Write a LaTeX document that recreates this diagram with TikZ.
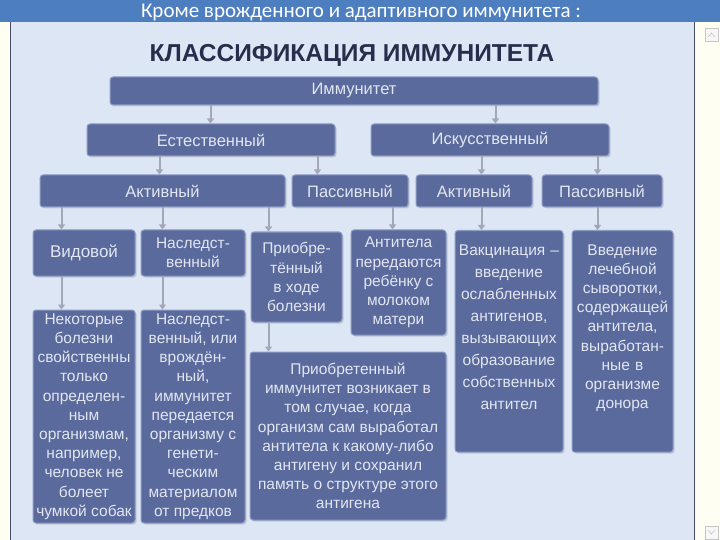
\documentclass[tikz,border=0pt]{standalone}
\usepackage{fontspec}
\setmainfont{Liberation Sans}
\newfontfamily\hdrfont{Carlito}
\usetikzlibrary{arrows.meta,calc,shadows}

\definecolor{hdrblue}{HTML}{4D7EBF}
\definecolor{paneblue}{HTML}{DCE6F4}
\definecolor{boxfill}{HTML}{5A6A9D}
\definecolor{boxedge}{HTML}{8E9BC6}
\definecolor{boxtext}{HTML}{E2E6F0}
\definecolor{titlenavy}{HTML}{272E4C}
\definecolor{arrgray}{HTML}{A3A8B8}

\begin{document}
\begin{tikzpicture}[x=1pt, y=-1pt,
    unit/.style={draw=boxedge, line width=1pt, fill=boxfill, rounded corners=3pt,
      text=boxtext, align=center, inner sep=0pt,
      drop shadow={shadow xshift=1.5pt, shadow yshift=-1.5pt, opacity=0.3}},
    head/.style={unit, font=\fontsize{16.5}{20}\selectfont},
    info/.style={unit, font=\fontsize{15.5}{19.2}\selectfont},
    arr/.style={draw=arrgray, line width=2pt, -{Triangle[width=7pt,length=5pt]}}]
    \useasboundingbox (0,0) rectangle (720,540);
    % window frame
    \fill[white!95!yellow] (0,22) rectangle (720,540);
    \fill[paneblue] (11,22) rectangle (694,540);
    \fill[hdrblue] (0,0) rectangle (720,22);
    \draw[titlenavy!85, line width=1.2pt] (10.5,22) -- (10.5,540);
    \draw[titlenavy!85, line width=1.2pt] (694.5,22) -- (694.5,540);
    \draw[gray!45, fill=gray!6] (705,28) rectangle (718,41);
    \draw[gray!60] (708,37) -- (711.5,33) -- (715,37);
    \draw[gray!45, fill=gray!6] (705,526) rectangle (718,539);
    \draw[gray!60] (708,530) -- (711.5,534) -- (715,530);
    % headings
    \node[font=\hdrfont\fontsize{21}{24}\selectfont, text=white] (hdr) at (361,12.5)
      {Кроме врожденного и адаптивного иммунитета :};
    \node[font=\bfseries\fontsize{24.5}{27}\selectfont, text=titlenavy] (title) at (352,55)
      {КЛАССИФИКАЦИЯ ИММУНИТЕТА};
    % levels 1-3
    \node[head, minimum width=488, minimum height=28] (imm) at (354,91) {Иммунитет};
    \node[head, minimum width=248, minimum height=32] (est) at (211,140) {Естественный};
    \node[head, minimum width=238, minimum height=32] (isk) at (490,140) {Искусственный};
    \node[head, minimum width=245, minimum height=32] (act1) at (162.5,191) {Активный};
    \node[head, minimum width=116, minimum height=32] (pas1) at (350,191) {Пассивный};
    \node[head, minimum width=116, minimum height=32] (act2) at (474,191) {Активный};
    \node[head, minimum width=120, minimum height=32] (pas2) at (602,191) {Пассивный};
    % level 4
    \node[head, font=\fontsize{17}{20}\selectfont, minimum width=102, minimum height=46] (vid) at (84,253) {Видовой};
    \node[info, minimum width=104, minimum height=46] (nas) at (193,253) {Наследст-\\венный};
    \node[info, minimum width=91, minimum height=90] (pri) at (296.5,277) {Приобре-\\тённый\\в ходе\\болезни};
    \node[info, minimum width=95, minimum height=105] (ant) at (398.5,282.5)
      {Антитела\\передаются\\ребёнку с\\молоком\\матери};
    \node[info, font=\fontsize{15.5}{22}\selectfont, anchor=north, text width=108,
      inner ysep=14pt, text depth=183pt] (vac) at (509,230)
      {Вакцинация –\\введение\\ослабленных\\антигенов,\\вызывающих\\образование\\собственных\\антител};
    \node[info, anchor=north, text width=101, inner ysep=14pt, text depth=183pt] (vve) at (622.5,230)
      {Введение\\лечебной\\сыворотки,\\содержащей\\антитела,\\выработан-\\ные в\\организме\\донора};
    % level 5
    \node[info, minimum width=102, minimum height=213] (nek) at (84,416.5)
      {Некоторые\\болезни\\свойственны\\только\\определен-\\ным\\организмам,\\например,\\человек не\\болеет\\чумкой собак};
    \node[info, minimum width=104, minimum height=213] (nasd) at (193,416.5)
      {Наследст-\\венный, или\\врождён-\\ный,\\иммунитет\\передается\\организму с\\генети-\\ческим\\материалом\\от предков};
    \node[info, minimum width=196, minimum height=168] (prid) at (348,436)
      {Приобретенный\\иммунитет возникает в\\том случае, когда\\организм сам выработал\\антитела к какому-либо\\антигену и сохранил\\память о структуре этого\\антигена};
    % connectors
    \foreach \src/\dst/\dx in {imm/est/124, imm/isk/125, est/act1/120, est/pas1/26,
        isk/act2/66, isk/pas2/56, act1/vid/29, act1/nas/22, act1/pri/18, pas1/ant/42,
        act2/vac/27, pas2/vve/26, vid/nek/29, nas/nasd/22, pri/prid/19}
      \draw[arr] ($(\dst.north west |- \src.south)+(\dx,0)$) -- ($(\dst.north west)+(\dx,0)$);
\end{tikzpicture}
\end{document}
